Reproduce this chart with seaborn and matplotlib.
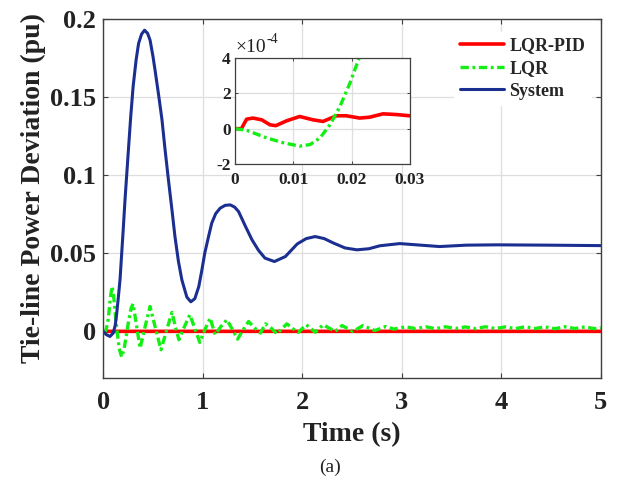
import numpy as np
import pandas as pd
import matplotlib
matplotlib.use('Agg')
import matplotlib.pyplot as plt
from matplotlib.ticker import FuncFormatter, MultipleLocator
import seaborn as sns

sns.set_theme(style='ticks')
plt.rcParams['font.family'] = ['Liberation Serif', 'DejaVu Serif']
plt.rcParams['axes.unicode_minus'] = False
plt.rcParams['lines.scale_dashes'] = False

# --- data ---
# System (no controller)
t_sys = [0, 0.03, 0.067, 0.1, 0.12, 0.134, 0.15, 0.168, 0.185, 0.2, 0.22, 0.25,
         0.275, 0.3, 0.33, 0.355, 0.385, 0.415, 0.445, 0.47, 0.5, 0.52, 0.555,
         0.59, 0.62, 0.655, 0.69, 0.72, 0.755, 0.79, 0.84, 0.88, 0.92, 0.96, 0.99,
         1.02, 1.055, 1.09, 1.13, 1.175, 1.225, 1.276, 1.32, 1.36, 1.43, 1.495,
         1.56, 1.625, 1.72, 1.83, 1.95, 2.04, 2.13, 2.22, 2.315, 2.43, 2.55, 2.67,
         2.78, 2.98, 3.19, 3.38, 3.65, 3.96, 4.46, 5.0]
v_sys = [0, -0.002, -0.0032, -0.001, 0.004, 0.011, 0.021, 0.033, 0.05, 0.065,
         0.086, 0.114, 0.137, 0.157, 0.174, 0.1846, 0.1905, 0.193, 0.191, 0.1867,
         0.176, 0.1675, 0.152, 0.1356, 0.117, 0.097, 0.078, 0.061, 0.045, 0.033,
         0.022, 0.019, 0.021, 0.0288, 0.039, 0.0502, 0.060, 0.0694, 0.0755, 0.079,
         0.0808, 0.0811, 0.0797, 0.0768, 0.0672, 0.0587, 0.052, 0.047, 0.0448,
         0.048, 0.0561, 0.0595, 0.0608, 0.0595, 0.0566, 0.0535, 0.0523, 0.053,
         0.0549, 0.0563, 0.0553, 0.0544, 0.0553, 0.0555, 0.0553, 0.055]

# LQR
t_lqr = [0, 0.002, 0.0054, 0.0083, 0.0111, 0.0129, 0.0146, 0.0163, 0.018, 0.0197,
         0.0213, 0.03, 0.05, 0.07, 0.088, 0.105, 0.13, 0.16, 0.185, 0.21, 0.25,
         0.28, 0.30, 0.335, 0.37, 0.42, 0.47, 0.525, 0.58, 0.635, 0.69, 0.725,
         0.76, 0.815, 0.87, 0.92, 0.97, 1.02, 1.075, 1.1, 1.125, 1.18, 1.243, 1.3,
         1.35, 1.405, 1.46, 1.525, 1.58, 1.63, 1.69, 1.745, 1.8, 1.845, 1.9, 1.96,
         2.04, 2.13, 2.21, 2.33, 2.40, 2.51, 2.61, 2.73, 2.84, 2.92, 3.04, 3.14,
         3.24, 3.34, 3.44, 3.54, 3.64, 3.74, 3.84, 3.94, 4.04, 4.14, 4.24, 4.34,
         4.44, 4.54, 4.64, 4.74, 4.84, 4.94, 5.0]
v_lqr = [0, -0.09e-4, -0.52e-4, -0.8e-4, -0.99e-4, -0.9e-4, -0.52e-4, 0.22e-4,
         1.25e-4, 2.56e-4, 4.0e-4, 0.0015, 0.008, 0.021, 0.0288, 0.022, 0.005,
         -0.011, -0.0164, -0.011, 0.005, 0.015, 0.0177, 0.0035, -0.0107, 0.003,
         0.016, 0.002, -0.0117, 0.0005, 0.0122, 0.003, -0.0053, 0.003, 0.0107,
         0.002, -0.007, 0.001, 0.0086, 0.003, -0.002, 0.003, 0.0075, 0.001,
         -0.0049, 0.001, 0.0064, 0.002, -0.001, 0.0049, 0.002, -0.0015, 0.002,
         0.0049, 0.002, -0.0006, 0.0043, -0.0005, 0.0043, 0.0, 0.0038, 0.0,
         0.0038, 0.0006, 0.0032, 0.0015, 0.003, 0.0018, 0.003, 0.0018, 0.003,
         0.0019, 0.0029, 0.0018, 0.003, 0.0019, 0.0029, 0.0018, 0.003, 0.0019,
         0.0029, 0.0018, 0.003, 0.0019, 0.0029, 0.0018, 0.0025]

# LQR-PID
t_pid = [0, 0.0011, 0.002, 0.0031, 0.0046, 0.006, 0.007, 0.0089, 0.0111, 0.0134,
         0.0151, 0.0174, 0.0191, 0.0214, 0.0231, 0.0254, 0.0277, 0.03, 5.0]
v_pid = [0, 0, 0.54e-4, 0.6e-4, 0.5e-4, 0.22e-4, 0.17e-4, 0.45e-4, 0.69e-4,
         0.5e-4, 0.41e-4, 0.73e-4, 0.73e-4, 0.6e-4, 0.65e-4, 0.84e-4, 0.8e-4,
         0.73e-4, 0.75e-4]

df_sys = pd.DataFrame({'t': t_sys, 'v': v_sys})
df_lqr = pd.DataFrame({'t': t_lqr, 'v': v_lqr})
df_pid = pd.DataFrame({'t': t_pid, 'v': v_pid})

RED = '#ff0000'
GREEN = '#13ee13'
BLUE = '#1b2f91'
DASHDOT = (0, (6, 2.6, 2, 2.6))
AX_COL = '#404040'
TXT = '#222222'

fig = plt.figure(figsize=(6.2, 4.88), dpi=100)
ax = fig.add_axes([0.1666, 0.2248, 0.8023, 0.7357])

sns.lineplot(data=df_pid, x='t', y='v', ax=ax, color=RED, lw=2.6, label='LQR-PID')
sns.lineplot(data=df_lqr, x='t', y='v', ax=ax, color=GREEN, lw=2.4, ls=DASHDOT, label='LQR')
sns.lineplot(data=df_sys, x='t', y='v', ax=ax, color=BLUE, lw=2.2, label='System')

ax.set_xlim(0, 5)
ax.set_ylim(-0.03, 0.2)
ax.xaxis.set_major_locator(MultipleLocator(1))
ax.yaxis.set_major_locator(MultipleLocator(0.05))
ax.yaxis.set_major_formatter(FuncFormatter(lambda v, p: '%g' % round(v, 4)))
ax.grid(True, color='#dedede', lw=0.9)
ax.set_axisbelow(True)
for s in ax.spines.values():
    s.set_color(AX_COL)
    s.set_linewidth(1.0)
ax.tick_params(direction='in', top=True, right=True, length=3.6, width=0.8,
               color=AX_COL, labelsize=19, labelcolor=TXT)
ax.tick_params(axis='x', pad=9)
ax.tick_params(axis='y', pad=5)
for lab in ax.get_xticklabels() + ax.get_yticklabels():
    lab.set_fontweight('bold')
ax.set_xlabel('Time (s)', fontsize=20, fontweight='bold', color=TXT, labelpad=6)
ax.set_ylabel('Tie-line Power Deviation (pu)', fontsize=20, fontweight='bold', color=TXT)
ax.yaxis.set_label_coords(-0.115, 0.53)

leg = ax.legend(loc='upper right', bbox_to_anchor=(0.98, 0.965), borderaxespad=0,
                frameon=True, fancybox=False, edgecolor='white', framealpha=1,
                prop={'weight': 'bold', 'size': 13}, handlelength=2.45,
                handletextpad=0.3, labelspacing=0.32, borderpad=0.3)

# inset zoom on the first 0.03 s
axin = fig.add_axes([0.379, 0.664, 0.282, 0.217])
sns.lineplot(data=df_pid, x='t', y='v', ax=axin, color=RED, lw=2.6, legend=False)
sns.lineplot(data=df_lqr, x='t', y='v', ax=axin, color=GREEN, lw=2.4, ls=DASHDOT, legend=False)
axin.set_xlim(0, 0.03)
axin.set_ylim(-2e-4, 4e-4)
axin.xaxis.set_major_locator(MultipleLocator(0.01))
axin.yaxis.set_major_locator(MultipleLocator(2e-4))
axin.xaxis.set_major_formatter(FuncFormatter(lambda v, p: '%g' % round(v, 4)))
axin.yaxis.set_major_formatter(FuncFormatter(lambda v, p: '%g' % round(v * 1e4, 2)))
axin.set_xlabel('')
axin.set_ylabel('')
axin.grid(True, color='#dedede', lw=0.9)
for s in axin.spines.values():
    s.set_color(AX_COL)
    s.set_linewidth(0.9)
axin.tick_params(direction='in', top=True, right=True, length=2.5, width=0.7,
                 color=AX_COL, labelsize=12.5, labelcolor=TXT, pad=3)
axin.tick_params(axis='x', pad=6)
for lab in axin.get_xticklabels() + axin.get_yticklabels():
    lab.set_fontweight('bold')
# scale factor label, as MATLAB prints it above the inset
axin.text(0.0, 1.02, '\u00d710', transform=axin.transAxes, fontsize=14,
          color=TXT, ha='left', va='bottom')
axin.text(0.178, 1.11, '-4', transform=axin.transAxes, fontsize=10,
          color=TXT, ha='left', va='bottom')

fig.text(0.533, 0.043, '(a)', ha='center', va='center', fontsize=14, color=TXT)

fig.savefig('out.png', dpi=100)
